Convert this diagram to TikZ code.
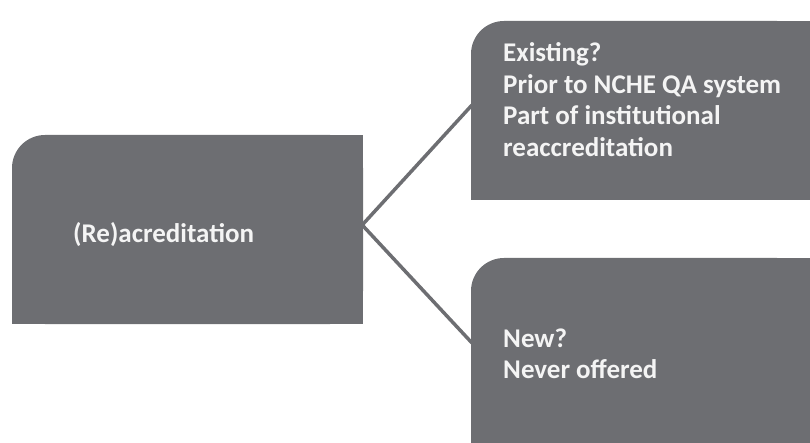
\documentclass[tikz,border=0pt]{standalone}
\usepackage{fontspec}
\setmainfont{Carlito}
\definecolor{boxc}{HTML}{6D6E72}
\definecolor{txtc}{HTML}{F4F4F4}
\begin{document}
\begin{tikzpicture}[x=1pt,y=-1pt,
  boxshape/.style={fill=boxc, draw=none, rounded corners=33pt, inner sep=0pt},
  lbl/.style={anchor=base west, inner sep=0pt, align=left, text=txtc,
    font=\bfseries\fontsize{27}{31.5}\selectfont},
  conn/.style={draw=boxc, line width=3.5pt}]
\useasboundingbox (0,0) rectangle (810,443);
% boxes
\node[boxshape, minimum width=351pt, minimum height=189pt] (L) at (187.5,229.5) {};
\node[boxshape, minimum width=339pt, minimum height=179pt] (T) at (640.5,110.5) {};
\node[boxshape, minimum width=339pt, minimum height=185pt] (B) at (640.5,350.5) {};
\foreach \n in {L,T,B}{
  \fill[boxc] ([xshift=33pt]\n.north west) rectangle (\n.south east);
  \fill[boxc] ([yshift=-33pt]\n.north west) rectangle (\n.south east);
}
% connectors
\coordinate (a) at ([yshift=4.5pt,xshift=-1pt]L.east);
\coordinate (t) at (472,105);
\coordinate (b) at (472,343);
\draw[conn] (t) -- (a) -- (b);
% texts (base anchor = last line)
\node[lbl] (lt) at (73,243) {(Re)acreditation};
\node[lbl] (tt) at (503,156.5) {Existing?\\Prior to NCHE QA system\\Part of institutional\\reaccreditation};
\node[lbl] (bt) at (503,378.5) {New?\\Never offered};
\end{tikzpicture}
\end{document}
